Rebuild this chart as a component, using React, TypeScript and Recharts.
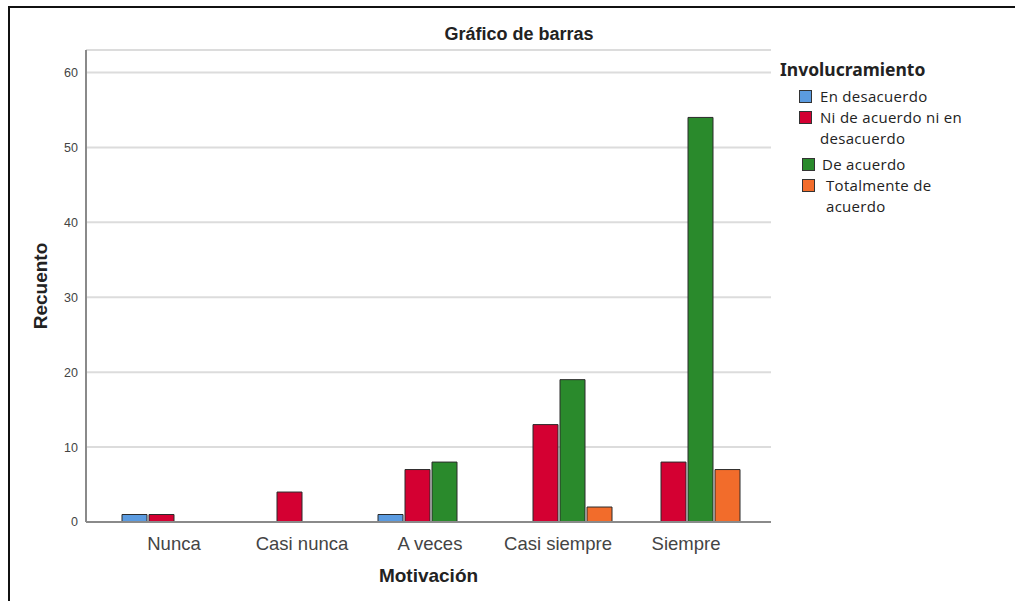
import React from 'react';
import { BarChart, Bar, XAxis, YAxis, CartesianGrid } from 'recharts';

const categories = ['Nunca', 'Casi nunca', 'A veces', 'Casi siempre', 'Siempre'];
const enDesacuerdo = [1, 0, 1, 0, 0];
const niDeAcuerdo = [1, 4, 7, 13, 8];
const deAcuerdo = [0, 0, 8, 19, 54];
const totalmente = [0, 0, 0, 2, 7];
const yTicks = [0, 10, 20, 30, 40, 50, 60];

const seriesNames = ['En desacuerdo', 'Ni de acuerdo ni en desacuerdo', 'De acuerdo', 'Totalmente de acuerdo'];
const COLORS = ['#5b9be0', '#d40032', '#2a8a2c', '#f26c2b'];

const data = categories.map((cat, i) => ({
  cat,
  s0: enDesacuerdo[i],
  s1: niDeAcuerdo[i],
  s2: deAcuerdo[i],
  s3: totalmente[i],
}));

const AXIS_COLOR = '#8a8a8a';
const SANS = '"Liberation Sans", Arial, sans-serif';

// where each legend entry sits (SPSS spacing is a bit uneven)
const legendSlots = [
  { top: 86, left: 799, textGap: 8 },
  { top: 107, left: 799, textGap: 8 },
  { top: 154, left: 802, textGap: 7 },
  { top: 175, left: 802, textGap: 11 },
];

const ChartLegend = () => (
  <div style={{ position: 'absolute', left: 0, top: 0, fontFamily: '"Open Sans", sans-serif', color: '#222' }}>
    <div
      style={{
        position: 'absolute',
        left: 780,
        top: 57,
        fontWeight: 700,
        fontSize: 17.5,
        fontFamily: '"Noto Sans", sans-serif',
        whiteSpace: 'nowrap',
      }}
    >
      Involucramiento
    </div>
    {seriesNames.map((name, i) => (
      <div
        key={name}
        style={{
          position: 'absolute',
          top: legendSlots[i].top,
          left: legendSlots[i].left,
          display: 'flex',
          alignItems: 'flex-start',
          fontSize: 15,
          letterSpacing: 0.3,
          lineHeight: '21px',
        }}
      >
        <span
          style={{
            display: 'inline-block',
            width: 11,
            height: 11,
            background: COLORS[i],
            border: '1px solid #333',
            marginTop: 4,
            marginRight: legendSlots[i].textGap,
            flex: 'none',
          }}
        />
        <span style={{ width: 158 }}>{name}</span>
      </div>
    ))}
  </div>
);

export default function App() {
  return (
    <div style={{ position: 'absolute', left: 0, top: 0, width: 1015, height: 601, background: '#fff', overflow: 'hidden' }}>
      <div style={{ position: 'absolute', left: 8, top: 6, width: 1007, height: 2, background: '#111' }} />
      <div style={{ position: 'absolute', left: 8, top: 6, width: 2, height: 595, background: '#111' }} />
      <div
        style={{
          position: 'absolute',
          top: 24,
          left: 399,
          width: 240,
          textAlign: 'center',
          fontFamily: SANS,
          fontWeight: 700,
          fontSize: 18,
          color: '#222',
        }}
      >
        Gráfico de barras
      </div>
      <div style={{ position: 'absolute', left: 0, top: 0 }}>
        <BarChart
          width={1015}
          height={601}
          data={data}
          margin={{ top: 50, right: 244, bottom: 39, left: 0 }}
          barCategoryGap={12}
          barGap={2}
        >
          <CartesianGrid horizontal vertical={false} stroke="#dcdcdc" strokeWidth={2} />
          <XAxis
            dataKey="cat"
            height={40}
            padding={{ left: 24, right: 21 }}
            tickLine={false}
            tickMargin={9}
            axisLine={{ stroke: AXIS_COLOR, strokeWidth: 2 }}
            tick={{ fill: '#444', fontSize: 18.5, fontFamily: SANS }}
            label={{
              value: 'Motivación',
              position: 'bottom',
              offset: 7,
              style: { fill: '#222', fontSize: 19, fontWeight: 700, fontFamily: SANS },
            }}
          />
          <XAxis
            xAxisId="top"
            dataKey="cat"
            orientation="top"
            height={0}
            tick={false}
            tickLine={false}
            axisLine={{ stroke: AXIS_COLOR, strokeWidth: 2 }}
          />
          <YAxis
            width={86}
            domain={[0, 63]}
            ticks={yTicks}
            tickLine={false}
            axisLine={{ stroke: AXIS_COLOR, strokeWidth: 2 }}
            tick={{ fill: '#444', fontSize: 12.5, fontFamily: SANS }}
            label={{
              value: 'Recuento',
              angle: -90,
              position: 'center',
              dx: -3,
              style: { fill: '#222', fontSize: 19, fontWeight: 700, fontFamily: SANS },
            }}
          />
          <YAxis
            yAxisId="right"
            orientation="right"
            width={0}
            domain={[0, 63]}
            tick={false}
            tickLine={false}
            axisLine={{ stroke: AXIS_COLOR, strokeWidth: 2 }}
          />
          {seriesNames.map((name, i) => (
            <Bar
              key={name}
              dataKey={`s${i}`}
              name={name}
              fill={COLORS[i]}
              stroke="#2b2b2b"
              strokeWidth={1}
              isAnimationActive={false}
            />
          ))}
        </BarChart>
      </div>
      <ChartLegend />
    </div>
  );
}
